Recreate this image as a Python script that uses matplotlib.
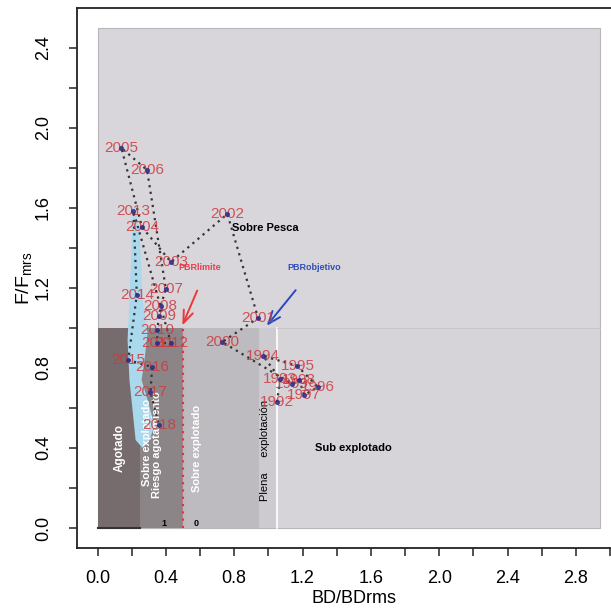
import numpy as np
import matplotlib
matplotlib.use("Agg")
import matplotlib.pyplot as plt
from matplotlib.patches import Rectangle, Polygon

plt.rcParams['font.family'] = ['Liberation Sans', 'DejaVu Sans']
plt.rcParams['mathtext.default'] = 'regular'

# stock trajectory (BD/BDrms, F/Fmrs) by year
years = [1992, 1993, 1994, 1995, 1996, 1997, 1998, 1999, 2000, 2001,
         2002, 2003, 2004, 2005, 2006, 2007, 2008, 2009, 2010, 2011,
         2012, 2013, 2014, 2015, 2016, 2017, 2018]
bd = [1.05, 1.07, 0.97, 1.17, 1.29, 1.21, 1.18, 1.14, 0.73, 0.94,
      0.76, 0.43, 0.26, 0.14, 0.29, 0.40, 0.37, 0.36, 0.35, 0.35,
      0.43, 0.21, 0.23, 0.18, 0.32, 0.31, 0.36]
f = [0.63, 0.745, 0.86, 0.81, 0.705, 0.665, 0.74, 0.72, 0.93, 1.05,
     1.57, 1.33, 1.505, 1.90, 1.79, 1.195, 1.11, 1.06, 0.99, 0.925,
     0.925, 1.585, 1.165, 0.84, 0.805, 0.68, 0.515]

# uncertainty cloud outline
cloud_x = [0.217, 0.246, 0.264, 0.293, 0.275, 0.258, 0.293, 0.334, 0.305,
           0.264, 0.223, 0.205, 0.187, 0.176, 0.187, 0.199, 0.205]
cloud_y = [1.615, 1.49, 1.14, 0.975, 0.84, 0.74, 0.64, 0.515, 0.44,
           0.40, 0.44, 0.59, 0.74, 0.94, 1.14, 1.39, 1.565]

# status zones along BD for F < 1
zone_edges = [0.0, 0.25, 0.5, 0.945, 1.045, 2.94]
zone_cols = ['#766b6d', '#8b8587', '#bdbbbf', '#cdcbcf', '#d6d4d9']

fig = plt.figure(figsize=(6.11, 6.09), dpi=100)
ax = fig.add_axes([77/611, 61/609, 553.6/611, 540/609])
ax.set_xlim(-0.12, 3.12)
ax.set_ylim(-0.1, 2.6)

ax.add_patch(Rectangle((0, 0), 2.94, 2.5, facecolor='#d8d6db',
                       edgecolor='#b8b6ba', lw=0.8, zorder=0))
for i in range(len(zone_cols)):
    ax.add_patch(Rectangle((zone_edges[i], 0), zone_edges[i+1] - zone_edges[i], 1.0,
                           facecolor=zone_cols[i], edgecolor='none', zorder=1))
ax.plot([1.05, 1.05], [0, 1.0], color='white', lw=1.2, zorder=1.5)
ax.plot([1.05, 2.94], [1.0, 1.0], color='#c8c6cb', lw=0.8, zorder=1.5)
ax.plot([0, 0.25], [0, 0], color='#333333', lw=1.5, zorder=1.5)

ax.add_patch(Polygon(np.column_stack([cloud_x, cloud_y]), closed=True,
                     facecolor='#aad9ee', edgecolor='none', zorder=2))

ax.plot([0.5, 0.5], [0, 1.0], color='#f0a0a8', lw=1.0, zorder=2)
ax.plot([0.5, 0.5], [0, 1.0], color='#e03040', lw=1.5, ls=(0, (1, 2.5)), zorder=2)

# zone labels
ax.text(0.13, 0.40, 'Agotado', rotation=90, color='white', fontsize=8.5,
        fontweight='bold', ha='center', va='center', zorder=3)
ax.text(0.287, 0.43, 'Sobre explotado', rotation=90, color='white', fontsize=8,
        fontweight='bold', ha='center', va='center', zorder=3)
ax.text(0.35, 0.415, 'Riesgo agotamiento', rotation=90, color='white', fontsize=8,
        fontweight='bold', ha='center', va='center', zorder=3)
ax.text(0.58, 0.40, 'Sobre explotado', rotation=90, color='white', fontsize=8,
        fontweight='bold', ha='center', va='center', zorder=3)
ax.text(0.98, 0.39, 'Plena     explotación', rotation=90, color='black', fontsize=8,
        ha='center', va='center', zorder=3)
ax.text(1.50, 0.40, 'Sub explotado', color='black', fontsize=8,
        fontweight='bold', ha='center', va='center', zorder=3)
ax.text(0.98, 1.50, 'Sobre Pesca', color='black', fontsize=8,
        fontweight='bold', ha='center', va='center', zorder=3)
ax.text(0.39, 0.02, '1', fontsize=6.5, fontweight='bold', ha='center', va='center', zorder=3)
ax.text(0.575, 0.02, '0', fontsize=6.5, fontweight='bold', ha='center', va='center', zorder=3)

# reference points
ax.text(0.6, 1.30, 'PBRlimite', color='#e8404a', fontsize=6.5, fontweight='bold',
        ha='center', va='center', zorder=3)
ax.text(1.27, 1.305, 'PBRobjetivo', color='#3050b8', fontsize=6.5, fontweight='bold',
        ha='center', va='center', zorder=3)
ax.annotate('', xy=(0.49, 1.0), xytext=(0.59, 1.2),
            arrowprops=dict(arrowstyle='->,head_length=0.9,head_width=0.35',
                            color='#e83a3a', lw=1.4), zorder=4)
ax.annotate('', xy=(0.98, 1.0), xytext=(1.17, 1.2),
            arrowprops=dict(arrowstyle='->,head_length=0.9,head_width=0.35',
                            color='#2848c0', lw=1.4), zorder=4)

# trajectory
ax.plot(bd, f, color='#333333', lw=1.6, ls=(0, (1, 2)), zorder=4)
for yr, x, y in zip(years, bd, f):
    ax.text(x, y, str(yr), color='#cc3a40', fontsize=11, ha='center', va='center',
            alpha=0.85, zorder=5)
ax.plot(bd, f, 'o', color='#30308a', ms=2.6, alpha=0.85, zorder=6)

ax.set_xticks(np.arange(0, 3.01, 0.2))
ax.set_xticklabels(['%.1f' % v if round(v * 10) % 4 == 0 and v < 2.9 else ''
                    for v in np.arange(0, 3.01, 0.2)])
ax.set_yticks(np.arange(0, 2.41, 0.2))
ax.set_yticklabels(['%.1f' % v if round(v * 10) % 4 == 0 else ''
                    for v in np.arange(0, 2.41, 0.2)], rotation=90, va='center')
ax.tick_params(axis='both', direction='out', length=6, width=1.1, labelsize=13,
               color='#222222')
ax.tick_params(axis='x', pad=10)
ax.tick_params(axis='y', pad=12)
for s in ax.spines.values():
    s.set_linewidth(1.3)
    s.set_color('#222222')

ax.set_xlabel('BD/BDrms', fontsize=13, labelpad=2)
ax.set_ylabel('F/F$_{mrs}$', fontsize=14, labelpad=1)

fig.savefig('out.png', dpi=100)
